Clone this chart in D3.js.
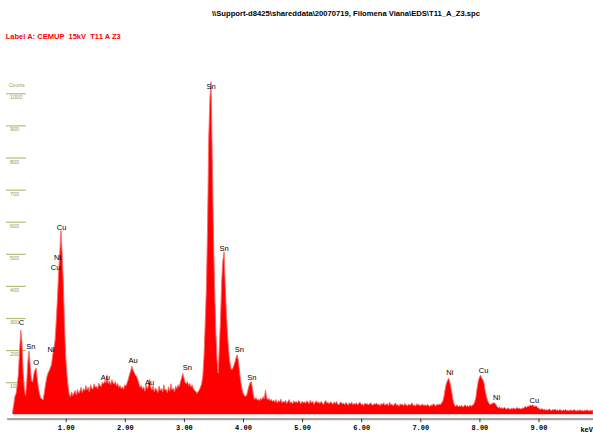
<!DOCTYPE html>
<html>
<head>
<meta charset="utf-8">
<script src="https://cdn.jsdelivr.net/npm/d3@7"></script>
<style>
  body { margin: 0; background: #fff; }
  svg { display: block; }
</style>
</head>
<body>
<script>
// Spectrum header texts
const fileTitle = "\\\\Support-d8425\\shareddata\\20070719, Filomena Viana\\EDS\\T11_A_Z3.spc";
const sampleLabel = "Label A: CEMUP  15kV  T11 A Z3";

// Channel calibration (keV) and counts, 10 channels per row
const channelStart = 0.10;
const channelWidth = 0.02;
const counts = [
  5, 30, 55, 65, 90, 128, 200, 262, 225, 130,          // 0.10
  80, 58, 95, 165, 197, 150, 105, 100, 125, 138,       // 0.30
  144, 110, 80, 62, 50, 48, 45, 70, 95, 115,           // 0.50
  128, 135, 145, 155, 185, 205, 230, 290, 360, 440,    // 0.70
  505, 572, 500, 410, 280, 180, 125, 88, 62, 55,       // 0.90
  70, 58, 66, 74, 60, 78, 65, 72, 84, 68,              // 1.10
  80, 73, 90, 76, 85, 70, 92, 81, 78, 95,              // 1.30
  84, 88, 79, 97, 90, 86, 100, 94, 105, 98,            // 1.50
  122, 96, 104, 92, 108, 99, 94, 102, 88, 96,          // 1.70
  84, 90, 80, 86, 78, 92, 88, 98, 110, 124,            // 1.90
  135, 150, 138, 130, 122, 118, 108, 96, 84, 90,       // 2.10
  78, 86, 72, 92, 80, 88, 110, 84, 76, 90,             // 2.30
  70, 82, 76, 68, 88, 74, 80, 70, 92, 75,              // 2.50
  78, 68, 86, 72, 95, 76, 82, 70, 88, 80,              // 2.70
  92, 85, 100, 112, 128, 115, 100, 95, 102, 90,        // 2.90
  96, 85, 92, 80, 74, 72, 65, 70, 76, 84,              // 3.10
  95, 118, 180, 280, 390, 580, 860, 985, 1036, 800,    // 3.30
  560, 390, 260, 170, 128, 210, 300, 418, 480, 506,    // 3.50
  400, 310, 242, 190, 160, 140, 140, 150, 160, 175,    // 3.70
  185, 170, 135, 105, 80, 66, 60, 56, 58, 72,          // 3.90
  88, 98, 102, 80, 55, 46, 52, 44, 48, 42,             // 4.10
  50, 46, 55, 48, 76, 52, 45, 50, 42, 47,              // 4.30
  40, 44, 38, 46, 35, 42, 39, 48, 36, 41,              // 4.50
  37, 44, 34, 40, 46, 36, 38, 33, 42, 37,              // 4.70
  40, 35, 43, 38, 32, 41, 36, 39, 34, 42,              // 4.90
  38, 33, 44, 36, 40, 31, 37, 42, 35, 39,              // 5.10
  34, 40, 36, 30, 38, 43, 35, 37, 32, 39,              // 5.30
  36, 31, 38, 34, 40, 33, 29, 36, 38, 32,              // 5.50
  35, 30, 37, 33, 28, 36, 32, 38, 30, 34,              // 5.70
  31, 36, 29, 34, 38, 30, 33, 27, 35, 31,              // 5.90
  34, 29, 32, 36, 30, 28, 33, 31, 35, 29,              // 6.10
  32, 27, 34, 30, 36, 28, 31, 33, 27, 38,              // 6.30
  29, 32, 26, 31, 35, 28, 30, 25, 33, 29,              // 6.50
  31, 27, 34, 29, 26, 32, 28, 30, 36, 27,              // 6.70
  30, 25, 33, 28, 31, 26, 29, 32, 27, 30,              // 6.90
  26, 31, 28, 24, 30, 27, 33, 29, 26, 31,              // 7.10
  28, 32, 30, 35, 40, 55, 78, 95, 105, 112,            // 7.30
  100, 82, 60, 38, 28, 25, 30, 23, 27, 24,             // 7.50
  28, 22, 26, 30, 24, 27, 23, 29, 25, 28,              // 7.70
  30, 38, 52, 80, 102, 115, 122, 112, 108, 95,         // 7.90
  72, 55, 42, 35, 30, 32, 34, 36, 35, 30,              // 8.10
  24, 20, 23, 18, 21, 17, 22, 19, 16, 20,              // 8.30
  18, 15, 19, 17, 20, 16, 18, 21, 17, 19,              // 8.50
  16, 20, 18, 22, 24, 21, 26, 25, 28, 27,              // 8.70
  29, 26, 24, 27, 22, 19, 17, 15, 18, 14,              // 8.90
  16, 13, 15, 12, 17, 14, 11, 15, 13, 16,              // 9.10
  12, 14, 11, 15, 13, 10, 14, 12, 15, 11,              // 9.30
  13, 10, 14, 12, 11, 15, 12, 10, 13, 11,              // 9.50
  14, 11, 12, 10, 13, 11, 14, 12, 10, 13,              // 9.70
  11, 12                                               // 9.90
];

// Peak identification labels: element, energy (keV), count level of the label baseline
const peakNames  = ["C", "Sn", "O", "Ni", "Cu", "Ni", "Cu", "Au", "Au", "Au", "Sn", "Sn", "Sn", "Sn", "Sn", "Ni", "Cu", "Ni", "Cu"];
const peakKeV    = [0.25, 0.41, 0.50, 0.75, 0.83, 0.86, 0.93, 1.67, 2.14, 2.42, 3.06, 3.46, 3.68, 3.94, 4.15, 7.50, 8.07, 8.29, 8.93];
const peakLevels = [277, 204, 154, 194, 449, 481, 574, 108, 159, 90, 138, 1013, 510, 193, 108, 121, 130, 45, 36];

// Axis ticks
const countTicks = [100, 200, 300, 400, 500, 600, 700, 800, 900, 1000];
const keVTicks = [1, 2, 3, 4, 5, 6, 7, 8, 9];

const W = 593, H = 435;

const svg = d3.select("body")
    .append("svg")
    .attr("width", W)
    .attr("height", H);

const spectrum = counts.map((c, i) => ({ keV: channelStart + i * channelWidth, counts: c }));

// Scales
const x = d3.scaleLinear()
    .domain([0, 10])
    .range([6.6, 597.6]);

const y = d3.scaleLinear()
    .domain([0, 1000])
    .range([414.3, 93.3]);

// Header texts
svg.append("text")
    .attr("x", 212)
    .attr("y", 16)
    .attr("textLength", 268)
    .attr("lengthAdjust", "spacingAndGlyphs")
    .attr("font-family", "Liberation Sans, Arial, sans-serif")
    .attr("font-weight", "bold")
    .attr("font-size", 8)
    .attr("fill", "#000")
    .text(fileTitle);

svg.append("text")
    .attr("x", 5.7)
    .attr("y", 39)
    .attr("textLength", 115)
    .attr("lengthAdjust", "spacingAndGlyphs")
    .style("white-space", "pre")
    .attr("font-family", "Liberation Sans, Arial, sans-serif")
    .attr("font-weight", "bold")
    .attr("font-size", 8)
    .attr("fill", "#ff0000")
    .text(sampleLabel);

// Counts axis: short olive bars with the value written underneath
const yAxis = svg.append("g")
    .attr("transform", "translate(6,0)")
    .call(d3.axisRight(y)
        .tickValues(countTicks)
        .tickFormat(d3.format("d"))
        .tickSize(19.7)
        .tickSizeOuter(0));

yAxis.select(".domain").remove();
yAxis.selectAll(".tick line").attr("stroke", "#b9b978").attr("stroke-width", 1.2);
yAxis.selectAll(".tick text")
    .attr("x", 4)
    .attr("dy", 5.6)
    .attr("text-anchor", "start")
    .attr("font-family", "Liberation Sans, Arial, sans-serif")
    .attr("font-size", 5.5)
    .attr("fill", "#9a9a55");

svg.append("text")
    .attr("x", 8.7)
    .attr("y", 87)
    .attr("textLength", 16)
    .attr("lengthAdjust", "spacingAndGlyphs")
    .attr("font-family", "Liberation Sans, Arial, sans-serif")
    .attr("font-size", 5.5)
    .attr("fill", "#9a9a55")
    .text("Counts");

// Spectrum fill
const area = d3.area()
    .x(d => x(d.keV))
    .y0(y(0))
    .y1(d => y(d.counts));

const line = d3.line()
    .x(d => x(d.keV))
    .y(d => y(d.counts));

svg.append("path")
    .datum(spectrum)
    .attr("fill", "#ff0000")
    .attr("d", area);

svg.append("path")
    .datum(spectrum)
    .attr("fill", "none")
    .attr("stroke", "#ff6a6a")
    .attr("stroke-width", 0.9)
    .attr("d", line);

// Peak labels
svg.append("g")
    .selectAll("text")
    .data(peakNames)
    .join("text")
    .attr("x", (d, i) => x(peakKeV[i]))
    .attr("y", (d, i) => y(peakLevels[i]))
    .attr("text-anchor", "middle")
    .attr("font-family", "Liberation Sans, Arial, sans-serif")
    .attr("font-size", 7.5)
    .attr("fill", "#000")
    .text(d => d);

// Energy axis
const xAxis = svg.append("g")
    .attr("transform", "translate(0,418.6)")
    .call(d3.axisBottom(x)
        .tickValues(keVTicks)
        .tickFormat(d3.format(".2f"))
        .tickSize(3.5)
        .tickSizeOuter(0)
        .tickPadding(3));

xAxis.select(".domain")
    .attr("stroke", "#a6a6a6")
    .attr("stroke-width", 2.2);
xAxis.selectAll(".tick line").attr("stroke", "#333");
xAxis.selectAll(".tick text")
    .attr("font-family", "Liberation Mono, DejaVu Sans Mono, monospace")
    .attr("font-weight", "bold")
    .attr("font-size", 7)
    .attr("fill", "#000");

svg.append("text")
    .attr("x", 593)
    .attr("y", 431.5)
    .attr("text-anchor", "end")
    .attr("font-family", "Liberation Mono, DejaVu Sans Mono, monospace")
    .attr("font-weight", "bold")
    .attr("font-size", 7)
    .attr("fill", "#000")
    .text("keV");
</script>
</body>
</html>
